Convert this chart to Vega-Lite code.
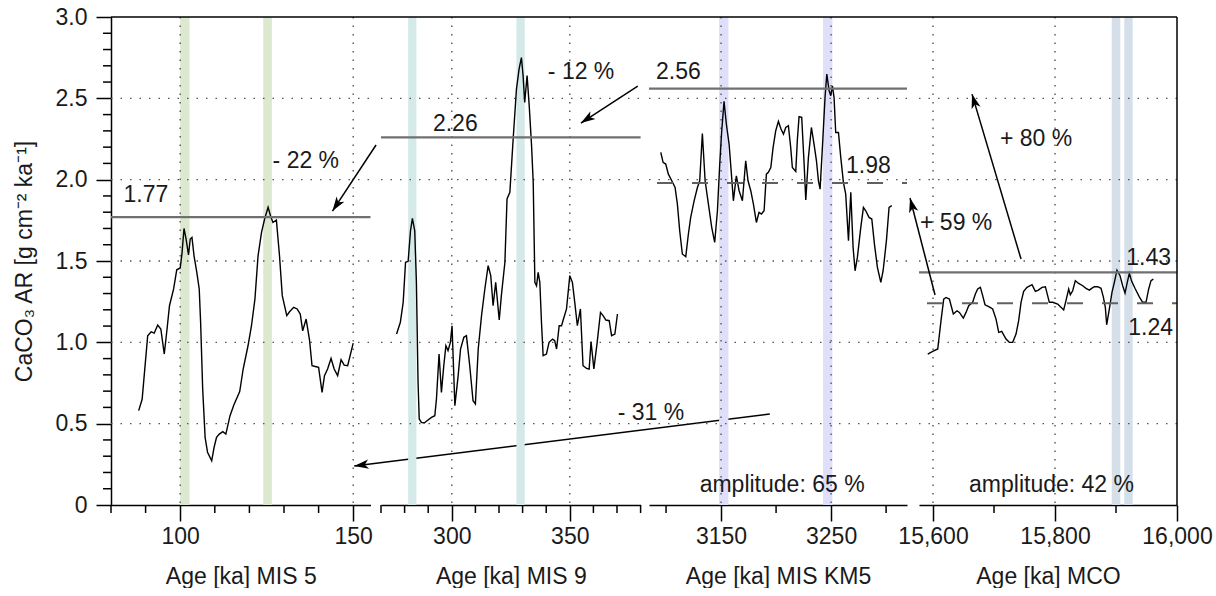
{
"$schema": "https://vega.github.io/schema/vega-lite/v6.json",
"padding": {"left": 13, "top": 6, "right": 0, "bottom": 0},
"background": "white",
"spacing": 0,
"bounds": "flush",
"config": {
  "view": {"stroke": null},
  "font": "Liberation Sans",
  "axis": {"labelFont": "Liberation Sans", "labelFontSize": 23, "labelColor": "#1a1a1a", "titleFont": "Liberation Sans", "titleFontSize": 23, "titleFontWeight": "normal", "titleColor": "#1a1a1a", "domainColor": "black", "domainWidth": 1.5, "tickColor": "black", "tickWidth": 1.5, "grid": false, "labelFlush": false, "labelOverlap": false, "zindex": 1, "labelPadding": 4, "titlePadding": 17, "tickSize": 16},
  "text": {"font": "Liberation Sans", "fontSize": 23, "color": "#1a1a1a"}
},
"datasets": {
  "mis5": [
    {"age":88.0,"ar":0.58},{"age":89.0,"ar":0.65},{"age":90.6,"ar":1.04},{"age":91.6,"ar":1.065},{"age":92.5,"ar":1.057},{"age":93.5,"ar":1.106},{"age":94.4,"ar":1.082},{"age":95.4,"ar":0.928},{"age":96.2,"ar":1.082},{"age":96.9,"ar":1.225},{"age":98.1,"ar":1.328},{"age":99.0,"ar":1.446},{"age":100.0,"ar":1.457},{"age":100.5,"ar":1.543},{"age":101.1,"ar":1.70},{"age":101.7,"ar":1.635},{"age":102.4,"ar":1.538},{"age":102.9,"ar":1.635},{"age":103.4,"ar":1.645},{"age":104.0,"ar":1.532},{"age":104.8,"ar":1.43},{"age":105.5,"ar":1.328},{"age":105.9,"ar":1.123},{"age":106.5,"ar":0.713},{"age":107.2,"ar":0.416},{"age":107.9,"ar":0.324},{"age":109.1,"ar":0.272},{"age":109.8,"ar":0.355},{"age":110.5,"ar":0.416},{"age":111.3,"ar":0.436},{"age":112.3,"ar":0.451},{"age":113.2,"ar":0.436},{"age":114.4,"ar":0.549},{"age":115.5,"ar":0.615},{"age":117.2,"ar":0.697},{"age":118.2,"ar":0.836},{"age":119.6,"ar":0.979},{"age":120.6,"ar":1.102},{"age":121.6,"ar":1.266},{"age":122.5,"ar":1.532},{"age":123.5,"ar":1.676},{"age":124.4,"ar":1.758},{"age":125.4,"ar":1.83},{"age":126.1,"ar":1.778},{"age":126.8,"ar":1.737},{"age":127.8,"ar":1.752},{"age":128.7,"ar":1.532},{"age":129.5,"ar":1.287},{"age":130.8,"ar":1.164},{"age":131.6,"ar":1.188},{"age":132.8,"ar":1.215},{"age":133.8,"ar":1.205},{"age":134.7,"ar":1.174},{"age":135.4,"ar":1.071},{"age":136.4,"ar":1.143},{"age":137.4,"ar":1.01},{"age":138.1,"ar":0.856},{"age":139.3,"ar":0.85},{"age":140.0,"ar":0.846},{"age":141.0,"ar":0.692},{"age":141.7,"ar":0.795},{"age":142.6,"ar":0.836},{"age":143.6,"ar":0.901},{"age":144.5,"ar":0.836},{"age":145.5,"ar":0.795},{"age":146.5,"ar":0.893},{"age":147.4,"ar":0.86},{"age":148.4,"ar":0.856},{"age":150.0,"ar":0.995}
  ],
  "mis9": [
    {"age":276.6,"ar":1.051},{"age":278.2,"ar":1.123},{"age":279.4,"ar":1.246},{"age":280.4,"ar":1.492},{"age":281.5,"ar":1.498},{"age":282.5,"ar":1.686},{"age":283.3,"ar":1.762},{"age":284.3,"ar":1.686},{"age":285.0,"ar":1.369},{"age":285.7,"ar":0.754},{"age":286.2,"ar":0.529},{"age":287.1,"ar":0.508},{"age":288.3,"ar":0.504},{"age":289.5,"ar":0.518},{"age":291.4,"ar":0.539},{"age":292.8,"ar":0.549},{"age":293.5,"ar":0.652},{"age":294.6,"ar":0.928},{"age":295.6,"ar":0.692},{"age":296.6,"ar":0.856},{"age":297.5,"ar":0.979},{"age":298.4,"ar":0.949},{"age":299.4,"ar":1.0},{"age":300.1,"ar":1.102},{"age":301.3,"ar":0.611},{"age":302.7,"ar":0.795},{"age":303.7,"ar":0.959},{"age":305.1,"ar":1.031},{"age":306.2,"ar":1.041},{"age":307.6,"ar":0.856},{"age":309.0,"ar":0.641},{"age":310.0,"ar":0.621},{"age":311.2,"ar":0.959},{"age":312.6,"ar":1.164},{"age":314.0,"ar":1.328},{"age":315.4,"ar":1.471},{"age":316.5,"ar":1.41},{"age":317.5,"ar":1.225},{"age":318.6,"ar":1.369},{"age":320.1,"ar":1.137},{"age":321.0,"ar":1.287},{"age":322.5,"ar":1.492},{"age":323.4,"ar":1.881},{"age":324.6,"ar":1.922},{"age":326.0,"ar":2.25},{"age":327.4,"ar":2.557},{"age":328.5,"ar":2.68},{"age":329.5,"ar":2.75},{"age":330.2,"ar":2.64},{"age":330.9,"ar":2.475},{"age":331.9,"ar":2.64},{"age":332.8,"ar":2.455},{"age":333.8,"ar":2.209},{"age":334.5,"ar":1.984},{"age":335.2,"ar":1.369},{"age":335.9,"ar":1.348},{"age":336.6,"ar":1.43},{"age":337.3,"ar":1.369},{"age":338.0,"ar":1.123},{"age":338.7,"ar":0.918},{"age":340.1,"ar":0.928},{"age":341.2,"ar":1.0},{"age":342.7,"ar":1.02},{"age":343.6,"ar":1.01},{"age":344.4,"ar":0.959},{"age":345.5,"ar":1.102},{"age":346.5,"ar":1.102},{"age":347.2,"ar":1.137},{"age":348.6,"ar":1.205},{"age":350.0,"ar":1.41},{"age":351.1,"ar":1.369},{"age":352.1,"ar":1.246},{"age":353.2,"ar":1.102},{"age":354.5,"ar":1.205},{"age":355.6,"ar":0.856},{"age":357.1,"ar":0.84},{"age":358.2,"ar":0.836},{"age":359.0,"ar":1.004},{"age":360.2,"ar":0.836},{"age":361.6,"ar":1.0},{"age":363.0,"ar":1.184},{"age":364.1,"ar":1.164},{"age":365.3,"ar":1.137},{"age":366.7,"ar":1.133},{"age":367.7,"ar":1.041},{"age":369.1,"ar":1.051},{"age":370.2,"ar":1.174}
  ],
  "km5": [
    {"age":3095.2,"ar":2.168},{"age":3097.3,"ar":2.106},{"age":3099.7,"ar":2.096},{"age":3102.1,"ar":2.034},{"age":3105.2,"ar":1.993},{"age":3108.2,"ar":1.952},{"age":3110.3,"ar":1.85},{"age":3112.4,"ar":1.686},{"age":3114.8,"ar":1.543},{"age":3117.9,"ar":1.526},{"age":3120.3,"ar":1.666},{"age":3122.4,"ar":1.768},{"age":3125.5,"ar":1.87},{"age":3128.5,"ar":1.952},{"age":3130.6,"ar":1.993},{"age":3133.0,"ar":2.284},{"age":3135.5,"ar":1.993},{"age":3138.5,"ar":1.85},{"age":3141.5,"ar":1.707},{"age":3144.2,"ar":1.614},{"age":3146.7,"ar":1.809},{"age":3148.8,"ar":2.096},{"age":3150.6,"ar":2.301},{"age":3152.7,"ar":2.481},{"age":3154.8,"ar":2.342},{"age":3157.3,"ar":2.219},{"age":3159.4,"ar":2.034},{"age":3161.2,"ar":1.87},{"age":3163.9,"ar":2.024},{"age":3166.4,"ar":1.932},{"age":3169.4,"ar":1.87},{"age":3172.4,"ar":2.116},{"age":3174.5,"ar":1.993},{"age":3177.0,"ar":1.932},{"age":3179.4,"ar":1.85},{"age":3182.1,"ar":1.737},{"age":3184.5,"ar":1.799},{"age":3186.7,"ar":1.789},{"age":3189.1,"ar":1.809},{"age":3191.2,"ar":2.034},{"age":3193.0,"ar":2.045},{"age":3195.2,"ar":2.075},{"age":3197.3,"ar":2.198},{"age":3199.7,"ar":2.301},{"age":3202.1,"ar":2.358},{"age":3204.5,"ar":2.311},{"age":3206.7,"ar":2.28},{"age":3208.8,"ar":2.321},{"age":3211.2,"ar":2.332},{"age":3213.3,"ar":2.198},{"age":3214.8,"ar":2.075},{"age":3217.9,"ar":2.051},{"age":3219.4,"ar":2.25},{"age":3220.9,"ar":2.387},{"age":3223.3,"ar":2.383},{"age":3225.5,"ar":2.096},{"age":3227.0,"ar":1.875},{"age":3229.4,"ar":2.137},{"age":3232.1,"ar":2.321},{"age":3234.5,"ar":2.219},{"age":3236.7,"ar":2.116},{"age":3238.5,"ar":1.993},{"age":3240.0,"ar":1.942},{"age":3242.1,"ar":2.198},{"age":3244.5,"ar":2.506},{"age":3246.1,"ar":2.649},{"age":3248.2,"ar":2.547},{"age":3249.7,"ar":2.516},{"age":3251.2,"ar":2.577},{"age":3252.7,"ar":2.506},{"age":3254.2,"ar":2.29},{"age":3256.7,"ar":2.29},{"age":3258.8,"ar":2.137},{"age":3261.2,"ar":1.983},{"age":3263.3,"ar":1.911},{"age":3265.8,"ar":1.625},{"age":3267.9,"ar":1.922},{"age":3270.0,"ar":1.584},{"age":3271.8,"ar":1.44},{"age":3273.9,"ar":1.522},{"age":3277.0,"ar":1.707},{"age":3279.4,"ar":1.83},{"age":3281.5,"ar":1.809},{"age":3284.5,"ar":1.768},{"age":3287.0,"ar":1.758},{"age":3289.4,"ar":1.604},{"age":3292.1,"ar":1.461},{"age":3295.2,"ar":1.369},{"age":3297.3,"ar":1.44},{"age":3300.3,"ar":1.625},{"age":3302.7,"ar":1.83},{"age":3305.2,"ar":1.84}
  ],
  "mco": [
    {"age":15591.3,"ar":0.928},{"age":15599.5,"ar":0.944},{"age":15607.7,"ar":0.959},{"age":15613.1,"ar":1.133},{"age":15617.5,"ar":1.266},{"age":15621.3,"ar":1.276},{"age":15626.8,"ar":1.266},{"age":15633.3,"ar":1.174},{"age":15639.3,"ar":1.194},{"age":15643.2,"ar":1.184},{"age":15649.7,"ar":1.149},{"age":15654.1,"ar":1.184},{"age":15658.5,"ar":1.225},{"age":15665.0,"ar":1.246},{"age":15669.4,"ar":1.297},{"age":15673.2,"ar":1.328},{"age":15677.6,"ar":1.338},{"age":15681.4,"ar":1.287},{"age":15685.2,"ar":1.231},{"age":15691.3,"ar":1.219},{"age":15697.8,"ar":1.205},{"age":15703.3,"ar":1.143},{"age":15707.7,"ar":1.061},{"age":15712.6,"ar":1.067},{"age":15719.7,"ar":1.02},{"age":15725.1,"ar":1.0},{"age":15730.6,"ar":1.0},{"age":15736.1,"ar":1.051},{"age":15740.4,"ar":1.133},{"age":15744.3,"ar":1.246},{"age":15748.6,"ar":1.313},{"age":15754.1,"ar":1.338},{"age":15762.3,"ar":1.354},{"age":15767.8,"ar":1.313},{"age":15772.7,"ar":1.321},{"age":15778.7,"ar":1.338},{"age":15784.2,"ar":1.342},{"age":15790.7,"ar":1.246},{"age":15796.2,"ar":1.246},{"age":15804.4,"ar":1.235},{"age":15809.8,"ar":1.215},{"age":15814.2,"ar":1.199},{"age":15818.0,"ar":1.256},{"age":15822.4,"ar":1.328},{"age":15825.1,"ar":1.293},{"age":15829.0,"ar":1.317},{"age":15833.3,"ar":1.379},{"age":15838.8,"ar":1.362},{"age":15845.4,"ar":1.348},{"age":15850.8,"ar":1.332},{"age":15856.3,"ar":1.321},{"age":15860.1,"ar":1.332},{"age":15864.5,"ar":1.342},{"age":15870.0,"ar":1.342},{"age":15875.4,"ar":1.332},{"age":15879.2,"ar":1.28},{"age":15882.5,"ar":1.215},{"age":15884.7,"ar":1.108},{"age":15889.1,"ar":1.205},{"age":15893.4,"ar":1.307},{"age":15897.3,"ar":1.369},{"age":15901.6,"ar":1.444},{"age":15906.6,"ar":1.41},{"age":15910.9,"ar":1.348},{"age":15914.8,"ar":1.303},{"age":15919.1,"ar":1.379},{"age":15921.9,"ar":1.424},{"age":15925.7,"ar":1.375},{"age":15931.7,"ar":1.328},{"age":15938.2,"ar":1.28},{"age":15943.7,"ar":1.246},{"age":15949.2,"ar":1.246},{"age":15953.6,"ar":1.328},{"age":15957.4,"ar":1.379},{"age":15961.2,"ar":1.389}
  ],
  "hgrid": [{"ar": 0.5}, {"ar": 1.0}, {"ar": 1.5}, {"ar": 2.0}, {"ar": 2.5}],
  "yminor": [{"ar":0.1},{"ar":0.2},{"ar":0.3},{"ar":0.4},{"ar":0.6},{"ar":0.7},{"ar":0.8},{"ar":0.9},{"ar":1.1},{"ar":1.2},{"ar":1.3},{"ar":1.4},{"ar":1.6},{"ar":1.7},{"ar":1.8},{"ar":1.9},{"ar":2.1},{"ar":2.2},{"ar":2.3},{"ar":2.4},{"ar":2.6},{"ar":2.7},{"ar":2.8},{"ar":2.9}]
},
"hconcat": [
{
  "width": 270, "height": 488,
  "layer": [
    {"data": {"values": [{"a0": 100, "a1": 102.7}, {"a0": 124, "a1": 126.5}]},
     "mark": {"type": "rect", "color": "#dde8d1"},
     "encoding": {"x": {"field": "a0", "type": "quantitative"}, "x2": {"field": "a1"}}},
    {"data": {"values": [{"age": 100}, {"age": 150}]},
     "mark": {"type": "rule", "color": "#555555", "strokeWidth": 1.4, "strokeDash": [1.5, 7]},
     "encoding": {"x": {"field": "age", "type": "quantitative"}}},
    {"data": {"name": "hgrid"},
     "mark": {"type": "rule", "color": "#555555", "strokeWidth": 1.4, "strokeDash": [1.5, 8]},
     "encoding": {"y": {"field": "ar", "type": "quantitative"}, "x": {"datum": 80}, "x2": {"datum": 155}}},
    {"data": {"name": "yminor"},
     "mark": {"type": "rule", "color": "black", "strokeWidth": 1.5},
     "encoding": {"y": {"field": "ar", "type": "quantitative"}, "x": {"datum": 80}, "x2": {"datum": 77.7}}},
    {"data": {"values": [{"age": 80}, {"age": 90}, {"age": 110}, {"age": 120}, {"age": 130}, {"age": 140}]},
     "mark": {"type": "rule", "color": "black", "strokeWidth": 1.5},
     "encoding": {"x": {"field": "age", "type": "quantitative"}, "y": {"datum": 0}, "y2": {"datum": -0.049}}},
    {"data": {"name": "mis5"},
     "mark": {"type": "line", "color": "black", "strokeWidth": 1.4},
     "encoding": {
       "x": {"field": "age", "type": "quantitative",
             "scale": {"domain": [80, 155], "range": [0, 259.5], "nice": false, "zero": false},
             "axis": {"title": "Age [ka] MIS 5", "values": [100, 150], "labelExpr": "format(datum.value, 'd')"}},
       "y": {"field": "ar", "type": "quantitative",
             "scale": {"domain": [0, 3], "nice": false, "zero": false},
             "axis": {"title": "CaCO₃ AR [g cm⁻² ka⁻¹]", "titlePadding": 19, "labelPadding": 9, "tickSize": 15,
                      "values": [0, 0.5, 1, 1.5, 2, 2.5, 3],
                      "labelExpr": "datum.value == 0 ? '0' : format(datum.value, '.1f')"}}
     }},
    {"data": {"values": [{"ar": 1.77}]},
     "mark": {"type": "rule", "color": "#707070", "strokeWidth": 2.2},
     "encoding": {"y": {"field": "ar", "type": "quantitative"}, "x": {"datum": 80}, "x2": {"datum": 155}}},
    {"data": {"values": [{"age": 83.6, "ar": 1.905, "label": "1.77"}, {"age": 126.7, "ar": 2.114, "label": "- 22 %"}]},
     "mark": {"type": "text", "align": "left", "baseline": "middle"},
     "encoding": {"x": {"field": "age", "type": "quantitative"}, "y": {"field": "ar", "type": "quantitative"}, "text": {"field": "label"}}},
    {"data": {"values": [{"arrow": "a", "age": 156.6, "ar": 2.213}, {"arrow": "a", "age": 144.0, "ar": 1.807}, {"arrow": "b", "age": 270.4, "ar": 0.559}, {"arrow": "b", "age": 150.3, "ar": 0.24}]},
     "mark": {"type": "line", "color": "black", "strokeWidth": 1.5},
     "encoding": {"x": {"field": "age", "type": "quantitative"}, "y": {"field": "ar", "type": "quantitative"}, "detail": {"field": "arrow"}}},
    {"data": {"values": [{"age": 144.0, "ar": 1.807}]},
     "mark": {"type": "point", "shape": "M0,0L0.55,1.7L0,1.25L-0.55,1.7Z", "filled": true, "color": "black", "opacity": 1, "size": 289, "angle": 213.7},
     "encoding": {"x": {"field": "age", "type": "quantitative"}, "y": {"field": "ar", "type": "quantitative"}}},
    {"data": {"values": [{"age": 150.3, "ar": 0.24}]},
     "mark": {"type": "point", "shape": "M0,0L0.55,1.7L0,1.25L-0.55,1.7Z", "filled": true, "color": "black", "opacity": 1, "size": 289, "angle": 263},
     "encoding": {"x": {"field": "age", "type": "quantitative"}, "y": {"field": "ar", "type": "quantitative"}}},
    {"data": {"values": [{"ar": 3}]},
     "mark": {"type": "rule", "color": "black", "strokeWidth": 1.5},
     "encoding": {"y": {"field": "ar", "type": "quantitative"}}}
  ]
},
{
  "width": 268, "height": 488,
  "layer": [
    {"data": {"values": [{"a0": 281.5, "a1": 285.0}, {"a0": 327.4, "a1": 330.9}]},
     "mark": {"type": "rect", "color": "#d5e9e9"},
     "encoding": {"x": {"field": "a0", "type": "quantitative"}, "x2": {"field": "a1"}}},
    {"data": {"values": [{"age": 300}, {"age": 350}]},
     "mark": {"type": "rule", "color": "#555555", "strokeWidth": 1.4, "strokeDash": [1.5, 7]},
     "encoding": {"x": {"field": "age", "type": "quantitative"}}},
    {"data": {"name": "hgrid"},
     "mark": {"type": "rule", "color": "#555555", "strokeWidth": 1.4, "strokeDash": [1.5, 8]},
     "encoding": {"y": {"field": "ar", "type": "quantitative"}, "x": {"datum": 270}, "x2": {"datum": 380}}},
    {"data": {"values": [{"age": 270}, {"age": 280}, {"age": 290}, {"age": 310}, {"age": 320}, {"age": 330}, {"age": 340}, {"age": 360}, {"age": 370}, {"age": 380}]},
     "mark": {"type": "rule", "color": "black", "strokeWidth": 1.5},
     "encoding": {"x": {"field": "age", "type": "quantitative"}, "y": {"datum": 0}, "y2": {"datum": -0.049}}},
    {"data": {"name": "mis9"},
     "mark": {"type": "line", "color": "black", "strokeWidth": 1.4},
     "encoding": {
       "x": {"field": "age", "type": "quantitative",
             "scale": {"domain": [270, 380], "range": [0, 259.6], "nice": false, "zero": false},
             "axis": {"title": "Age [ka] MIS 9", "values": [300, 350], "labelExpr": "format(datum.value, 'd')"}},
       "y": {"field": "ar", "type": "quantitative",
             "scale": {"domain": [0, 3], "nice": false, "zero": false},
             "axis": {"title": null, "labels": false, "ticks": false, "domain": false, "values": [1]}}
     }},
    {"data": {"values": [{"ar": 2.26}]},
     "mark": {"type": "rule", "color": "#707070", "strokeWidth": 2.2},
     "encoding": {"y": {"field": "ar", "type": "quantitative"}, "x": {"datum": 270}, "x2": {"datum": 380}}},
    {"data": {"values": [{"age": 292.0, "ar": 2.342, "label": "2.26"}, {"age": 340.7, "ar": 2.661, "label": "- 12 %"}, {"age": 370.3, "ar": 0.565, "label": "- 31 %"}]},
     "mark": {"type": "text", "align": "left", "baseline": "middle"},
     "encoding": {"x": {"field": "age", "type": "quantitative"}, "y": {"field": "ar", "type": "quantitative"}, "text": {"field": "label"}}},
    {"data": {"values": [{"age": 378.8, "ar": 2.575}, {"age": 354.7, "ar": 2.348}]},
     "mark": {"type": "line", "color": "black", "strokeWidth": 1.5},
     "encoding": {"x": {"field": "age", "type": "quantitative"}, "y": {"field": "ar", "type": "quantitative"}}},
    {"data": {"values": [{"age": 354.7, "ar": 2.348}]},
     "mark": {"type": "point", "shape": "M0,0L0.55,1.7L0,1.25L-0.55,1.7Z", "filled": true, "color": "black", "opacity": 1, "size": 289, "angle": 237},
     "encoding": {"x": {"field": "age", "type": "quantitative"}, "y": {"field": "ar", "type": "quantitative"}}},
    {"data": {"values": [{"ar": 3}]},
     "mark": {"type": "rule", "color": "black", "strokeWidth": 1.5},
     "encoding": {"y": {"field": "ar", "type": "quantitative"}}}
  ]
},
{
  "width": 270, "height": 488,
  "layer": [
    {"data": {"values": [{"a0": 3148.2, "a1": 3156.7}, {"a0": 3242.7, "a1": 3251.2}]},
     "mark": {"type": "rect", "color": "#dfdffa"},
     "encoding": {"x": {"field": "a0", "type": "quantitative"}, "x2": {"field": "a1"}}},
    {"data": {"values": [{"age": 3150}, {"age": 3250}]},
     "mark": {"type": "rule", "color": "#555555", "strokeWidth": 1.4, "strokeDash": [1.5, 7]},
     "encoding": {"x": {"field": "age", "type": "quantitative"}}},
    {"data": {"name": "hgrid"},
     "mark": {"type": "rule", "color": "#555555", "strokeWidth": 1.4, "strokeDash": [1.5, 8]},
     "encoding": {"y": {"field": "ar", "type": "quantitative"}, "x": {"datum": 3084.5}, "x2": {"datum": 3319}}},
    {"data": {"values": [{"age": 3100}, {"age": 3200}, {"age": 3300}]},
     "mark": {"type": "rule", "color": "black", "strokeWidth": 1.5},
     "encoding": {"x": {"field": "age", "type": "quantitative"}, "y": {"datum": 0}, "y2": {"datum": -0.049}}},
    {"data": {"name": "km5"},
     "mark": {"type": "line", "color": "black", "strokeWidth": 1.4},
     "encoding": {
       "x": {"field": "age", "type": "quantitative",
             "scale": {"domain": [3084.5, 3319], "range": [0, 258], "nice": false, "zero": false},
             "axis": {"title": "Age [ka] MIS KM5", "values": [3150, 3250], "labelExpr": "format(datum.value, 'd')"}},
       "y": {"field": "ar", "type": "quantitative",
             "scale": {"domain": [0, 3], "nice": false, "zero": false},
             "axis": {"title": null, "labels": false, "ticks": false, "domain": false, "values": [1]}}
     }},
    {"data": {"values": [{"ar": 2.56}]},
     "mark": {"type": "rule", "color": "#707070", "strokeWidth": 2.2},
     "encoding": {"y": {"field": "ar", "type": "quantitative"}, "x": {"datum": 3084.5}, "x2": {"datum": 3319}}},
    {"data": {"values": [{"ar": 1.98}]},
     "mark": {"type": "rule", "color": "#606060", "strokeWidth": 2, "strokeDash": [16, 19], "strokeDashOffset": 27},
     "encoding": {"y": {"field": "ar", "type": "quantitative"}, "x": {"datum": 3084.5}, "x2": {"datum": 3319}}},
    {"data": {"values": [{"age": 3090.9, "ar": 2.661, "label": "2.56"}, {"age": 3263.6, "ar": 2.084, "label": "1.98"}]},
     "mark": {"type": "text", "align": "left", "baseline": "middle"},
     "encoding": {"x": {"field": "age", "type": "quantitative"}, "y": {"field": "ar", "type": "quantitative"}, "text": {"field": "label"}}},
    {"data": {"values": [{"age": 3205.5, "ar": 0.12, "label": "amplitude: 65 %"}]},
     "mark": {"type": "text", "align": "center", "baseline": "middle"},
     "encoding": {"x": {"field": "age", "type": "quantitative"}, "y": {"field": "ar", "type": "quantitative"}, "text": {"field": "label"}}},
    {"data": {"values": [{"ar": 3}]},
     "mark": {"type": "rule", "color": "black", "strokeWidth": 1.5},
     "encoding": {"y": {"field": "ar", "type": "quantitative"}}}
  ]
},
{
  "width": 258, "height": 488,
  "layer": [
    {"data": {"values": [{"a0": 15893, "a1": 15907}, {"a0": 15913.6, "a1": 15927.4}]},
     "mark": {"type": "rect", "color": "#d4dfea"},
     "encoding": {"x": {"field": "a0", "type": "quantitative"}, "x2": {"field": "a1"}}},
    {"data": {"values": [{"age": 15600}, {"age": 15800}]},
     "mark": {"type": "rule", "color": "#555555", "strokeWidth": 1.4, "strokeDash": [1.5, 7]},
     "encoding": {"x": {"field": "age", "type": "quantitative"}}},
    {"data": {"name": "hgrid"},
     "mark": {"type": "rule", "color": "#555555", "strokeWidth": 1.4, "strokeDash": [1.5, 8]},
     "encoding": {"y": {"field": "ar", "type": "quantitative"}, "x": {"datum": 15577}, "x2": {"datum": 16000}}},
    {"data": {"values": [{"age": 15700}, {"age": 15900}]},
     "mark": {"type": "rule", "color": "black", "strokeWidth": 1.5},
     "encoding": {"x": {"field": "age", "type": "quantitative"}, "y": {"datum": 0}, "y2": {"datum": -0.049}}},
    {"data": {"name": "mco"},
     "mark": {"type": "line", "color": "black", "strokeWidth": 1.4},
     "encoding": {
       "x": {"field": "age", "type": "quantitative",
             "scale": {"domain": [15577, 16000], "range": [0, 258], "nice": false, "zero": false},
             "axis": {"title": "Age [ka] MCO", "values": [15600, 15800, 16000], "labelExpr": "format(datum.value, ',')"}},
       "y": {"field": "ar", "type": "quantitative",
             "scale": {"domain": [0, 3], "nice": false, "zero": false},
             "axis": {"title": null, "labels": false, "ticks": false, "domain": false, "values": [1]}}
     }},
    {"data": {"values": [{"ar": 1.43}]},
     "mark": {"type": "rule", "color": "#707070", "strokeWidth": 2.2},
     "encoding": {"y": {"field": "ar", "type": "quantitative"}, "x": {"datum": 15577}, "x2": {"datum": 16000}}},
    {"data": {"values": [{"ar": 1.24}]},
     "mark": {"type": "rule", "color": "#606060", "strokeWidth": 2, "strokeDash": [16, 19], "strokeDashOffset": 27},
     "encoding": {"y": {"field": "ar", "type": "quantitative"}, "x": {"datum": 15577}, "x2": {"datum": 16000}}},
    {"data": {"values": [{"age": 15990.2, "ar": 1.518, "label": "1.43"}, {"age": 15993.4, "ar": 1.088, "label": "1.24"}]},
     "mark": {"type": "text", "align": "right", "baseline": "middle"},
     "encoding": {"x": {"field": "age", "type": "quantitative"}, "y": {"field": "ar", "type": "quantitative"}, "text": {"field": "label"}}},
    {"data": {"values": [{"age": 15709.8, "ar": 2.25, "label": "+ 80 %"}, {"age": 15578.7, "ar": 1.733, "label": "+ 59 %"}]},
     "mark": {"type": "text", "align": "left", "baseline": "middle"},
     "encoding": {"x": {"field": "age", "type": "quantitative"}, "y": {"field": "ar", "type": "quantitative"}, "text": {"field": "label"}}},
    {"data": {"values": [{"age": 15794.3, "ar": 0.12, "label": "amplitude: 42 %"}]},
     "mark": {"type": "text", "align": "center", "baseline": "middle"},
     "encoding": {"x": {"field": "age", "type": "quantitative"}, "y": {"field": "ar", "type": "quantitative"}, "text": {"field": "label"}}},
    {"data": {"values": [{"arrow": "c", "age": 15603.3, "ar": 1.291}, {"arrow": "c", "age": 15562.3, "ar": 1.887}, {"arrow": "d", "age": 15744.3, "ar": 1.512}, {"arrow": "d", "age": 15663.9, "ar": 2.526}]},
     "mark": {"type": "line", "color": "black", "strokeWidth": 1.5},
     "encoding": {"x": {"field": "age", "type": "quantitative"}, "y": {"field": "ar", "type": "quantitative"}, "detail": {"field": "arrow"}}},
    {"data": {"values": [{"age": 15562.3, "ar": 1.887}]},
     "mark": {"type": "point", "shape": "M0,0L0.55,1.7L0,1.25L-0.55,1.7Z", "filled": true, "color": "black", "opacity": 1, "size": 289, "angle": 345.5},
     "encoding": {"x": {"field": "age", "type": "quantitative"}, "y": {"field": "ar", "type": "quantitative"}}},
    {"data": {"values": [{"age": 15663.9, "ar": 2.526}]},
     "mark": {"type": "point", "shape": "M0,0L0.55,1.7L0,1.25L-0.55,1.7Z", "filled": true, "color": "black", "opacity": 1, "size": 289, "angle": 343.5},
     "encoding": {"x": {"field": "age", "type": "quantitative"}, "y": {"field": "ar", "type": "quantitative"}}},
    {"data": {"values": [{"ar": 3}]},
     "mark": {"type": "rule", "color": "black", "strokeWidth": 1.5},
     "encoding": {"y": {"field": "ar", "type": "quantitative"}}},
    {"data": {"values": [{"age": 16000}]},
     "mark": {"type": "rule", "color": "black", "strokeWidth": 1.5},
     "encoding": {"x": {"field": "age", "type": "quantitative"}}}
  ]
}
]
}
